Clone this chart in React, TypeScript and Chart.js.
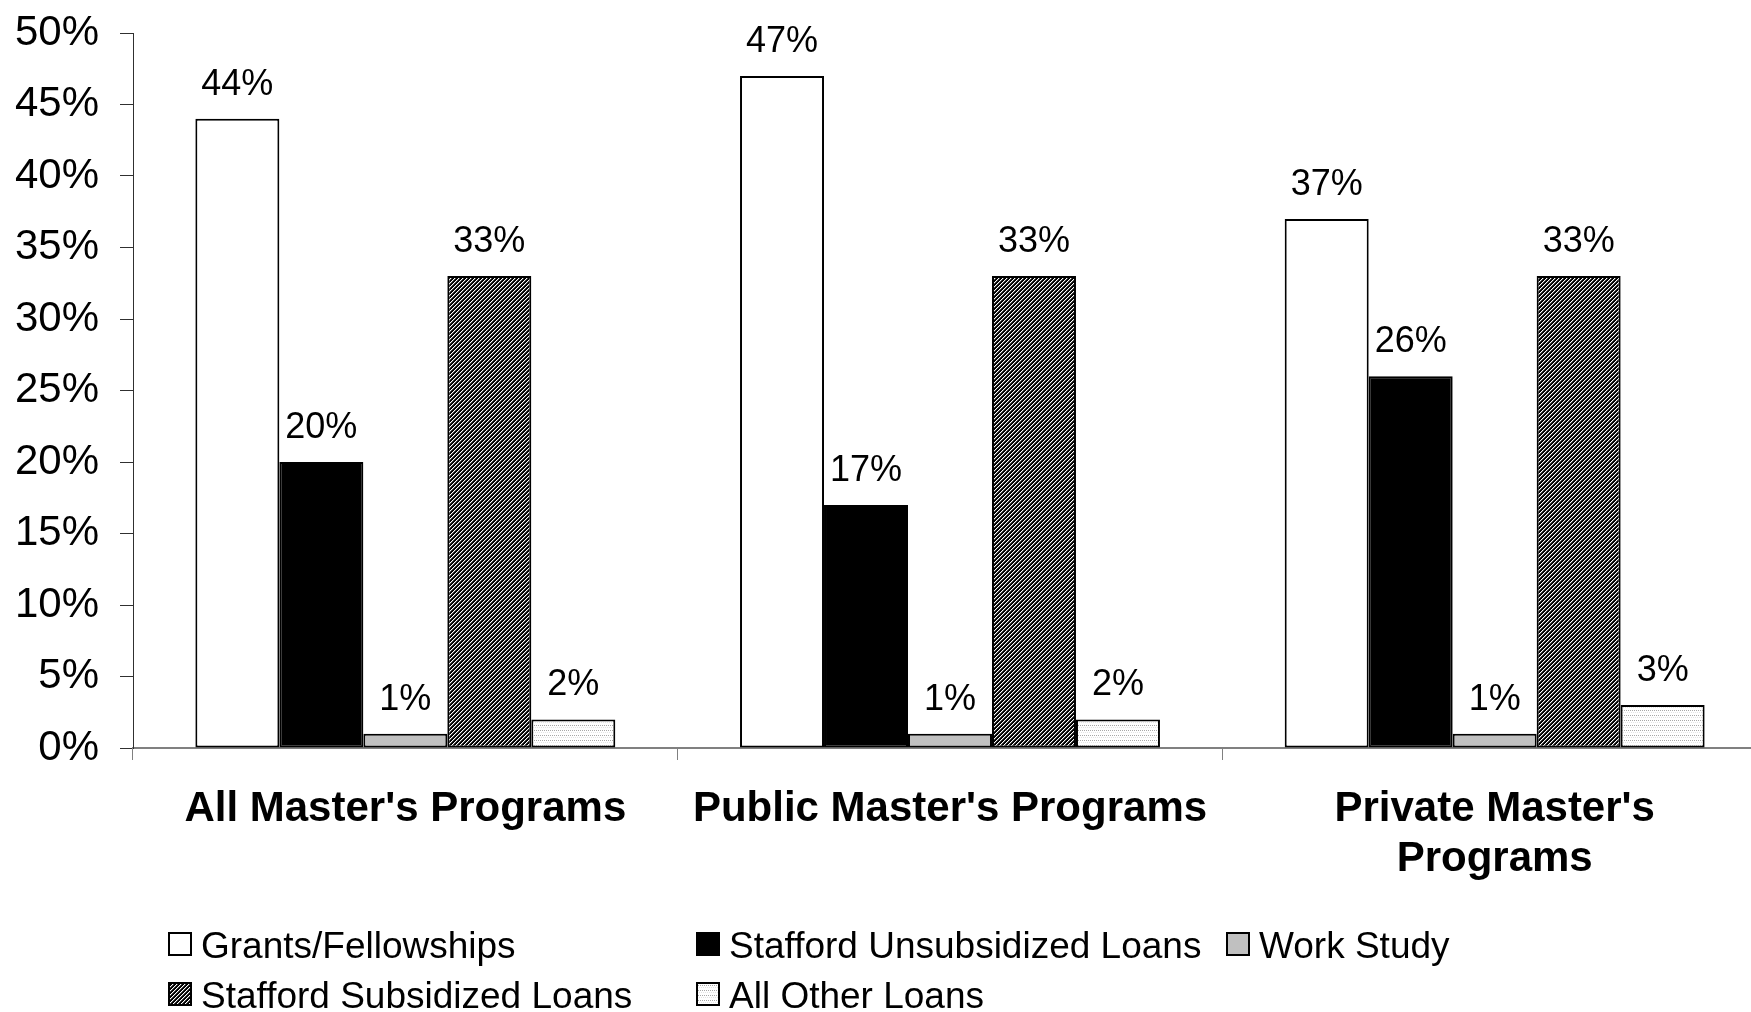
import React, { useEffect, useRef } from "react";
import { Chart, registerables } from "chart.js";

Chart.register(...registerables);

// ---------- data ----------
const categories: (string | string[])[] = [
  "All Master's Programs",
  "Public Master's Programs",
  ["Private Master's", "Programs"],
];
const seriesNames = [
  "Grants/Fellowships",
  "Stafford Unsubsidized Loans",
  "Work Study",
  "Stafford Subsidized Loans",
  "All Other Loans",
];
const grantsValues = [44, 47, 37];
const unsubsidizedValues = [20, 17, 26];
const workStudyValues = [1, 1, 1];
const subsidizedValues = [33, 33, 33];
const otherLoansValues = [2, 2, 3];
const yMin = 0;
const yMax = 50;
const yStep = 5;

const FONT = "'Liberation Sans', Arial, Helvetica, sans-serif";

function makeHatch(): CanvasPattern | string {
  const c = document.createElement("canvas");
  c.width = 4;
  c.height = 4;
  const g = c.getContext("2d");
  if (!g) return "#444";
  g.fillStyle = "#000";
  g.fillRect(0, 0, 4, 4);
  for (let x = 0; x < 4; x++) {
    for (let y = 0; y < 4; y++) {
      const k = (x + y) % 4;
      if (k === 0) {
        g.fillStyle = "#ffffff";
        g.fillRect(x, y, 1, 1);
      } else if (k === 1) {
        g.fillStyle = "#505050";
        g.fillRect(x, y, 1, 1);
      }
    }
  }
  return g.createPattern(c, "repeat") || "#444";
}

function makeDots(): CanvasPattern | string {
  const c = document.createElement("canvas");
  c.width = 2;
  c.height = 5;
  const g = c.getContext("2d");
  if (!g) return "#eee";
  g.fillStyle = "#ffffff";
  g.fillRect(0, 0, 2, 5);
  g.fillStyle = "#a8a8a8";
  g.fillRect(0, 0, 1, 1);
  g.fillStyle = "#e4e4e4";
  g.fillRect(1, 2, 1, 1);
  return g.createPattern(c, "repeat") || "#eee";
}

export default function App() {
  const ref = useRef<HTMLCanvasElement | null>(null);

  useEffect(() => {
    const canvas = ref.current;
    if (!canvas) return;
    const hatch = makeHatch();
    const dots = makeDots();
    const fills: (string | CanvasPattern)[] = ["#ffffff", "#000000", "#c0c0c0", hatch, dots];
    const values = [grantsValues, unsubsidizedValues, workStudyValues, subsidizedValues, otherLoansValues];

    const valueLabels = {
      id: "valueLabels",
      afterDatasetsDraw(chart: any) {
        const ctx = chart.ctx;
        ctx.save();
        ctx.font = `36px ${FONT}`;
        ctx.fillStyle = "#000";
        ctx.textAlign = "center";
        ctx.textBaseline = "alphabetic";
        chart.data.datasets.forEach((ds: any, di: number) => {
          const meta = chart.getDatasetMeta(di);
          meta.data.forEach((el: any, i: number) => {
            ctx.fillText(`${ds.data[i]}%`, el.x, el.y - 24);
          });
        });
        ctx.restore();
      },
    };

    const gridLegend = {
      id: "gridLegend",
      afterDraw(chart: any) {
        const ctx = chart.ctx;
        const colX = [168, 696, 1226];
        const rowTop = [932, 982];
        const box = 24;
        ctx.save();
        ctx.font = `37px ${FONT}`;
        ctx.textAlign = "left";
        ctx.textBaseline = "alphabetic";
        chart.data.datasets.forEach((ds: any, i: number) => {
          const col = i % 3;
          const row = Math.floor(i / 3);
          const x = colX[col];
          const y = rowTop[row];
          ctx.fillStyle = ds.backgroundColor;
          ctx.fillRect(x, y, box, box);
          ctx.strokeStyle = "#000";
          ctx.lineWidth = 2;
          ctx.strokeRect(x + 1, y + 1, box - 2, box - 2);
          ctx.fillStyle = "#000";
          ctx.fillText(ds.label, x + box + 9, y + box + 2);
        });
        ctx.restore();
      },
    };

    const chart = new Chart(canvas, {
      type: "bar",
      data: {
        labels: categories,
        datasets: seriesNames.map((name, i) => ({
          label: name,
          data: values[i],
          backgroundColor: fills[i] as any,
          borderColor: "#000",
          borderWidth: 2,
          borderSkipped: false,
          barPercentage: 1,
          categoryPercentage: 0.771,
        })),
      },
      options: {
        responsive: false,
        animation: false,
        events: [],
        layout: { padding: { left: 0, right: 33, top: 33, bottom: 0 } },
        plugins: {
          legend: { display: false },
          tooltip: { enabled: false },
          title: { display: false },
        },
        scales: {
          x: {
            offset: true,
            grid: {
              display: true,
              drawOnChartArea: false,
              drawTicks: true,
              tickLength: 12,
              color: "#808080",
              lineWidth: 1,
              offset: true,
            },
            border: { display: true, color: "#808080", width: 2 },
            ticks: {
              font: { family: FONT, size: 42, weight: "bold" },
              color: "#000",
              padding: 24,
              maxRotation: 0,
              minRotation: 0,
              autoSkip: false,
            },
            afterFit: (s: any) => {
              s.height = 264;
              s.paddingLeft = 0;
              s.paddingRight = 0;
            },
          },
          y: {
            min: yMin,
            max: yMax,
            grid: {
              drawOnChartArea: false,
              drawTicks: true,
              tickLength: 13,
              color: "#303030",
              lineWidth: 1,
            },
            border: { display: true, color: "#303030", width: 1 },
            ticks: {
              stepSize: yStep,
              callback: (v: any) => `${v}%`,
              font: { family: FONT, size: 42 },
              color: "#000",
              padding: 21,
            },
            afterFit: (s: any) => {
              s.width = 133;
              s.paddingTop = 0;
              s.paddingBottom = 0;
            },
          },
        },
      },
      plugins: [valueLabels, gridLegend],
    });

    return () => chart.destroy();
  }, []);

  return (
    <div
      style={{
        position: "absolute",
        left: 0,
        top: 0,
        width: 1751,
        height: 1012,
        overflow: "hidden",
        background: "#fff",
      }}
    >
      <canvas ref={ref} width={1800} height={1012} style={{ display: "block" }} />
    </div>
  );
}
